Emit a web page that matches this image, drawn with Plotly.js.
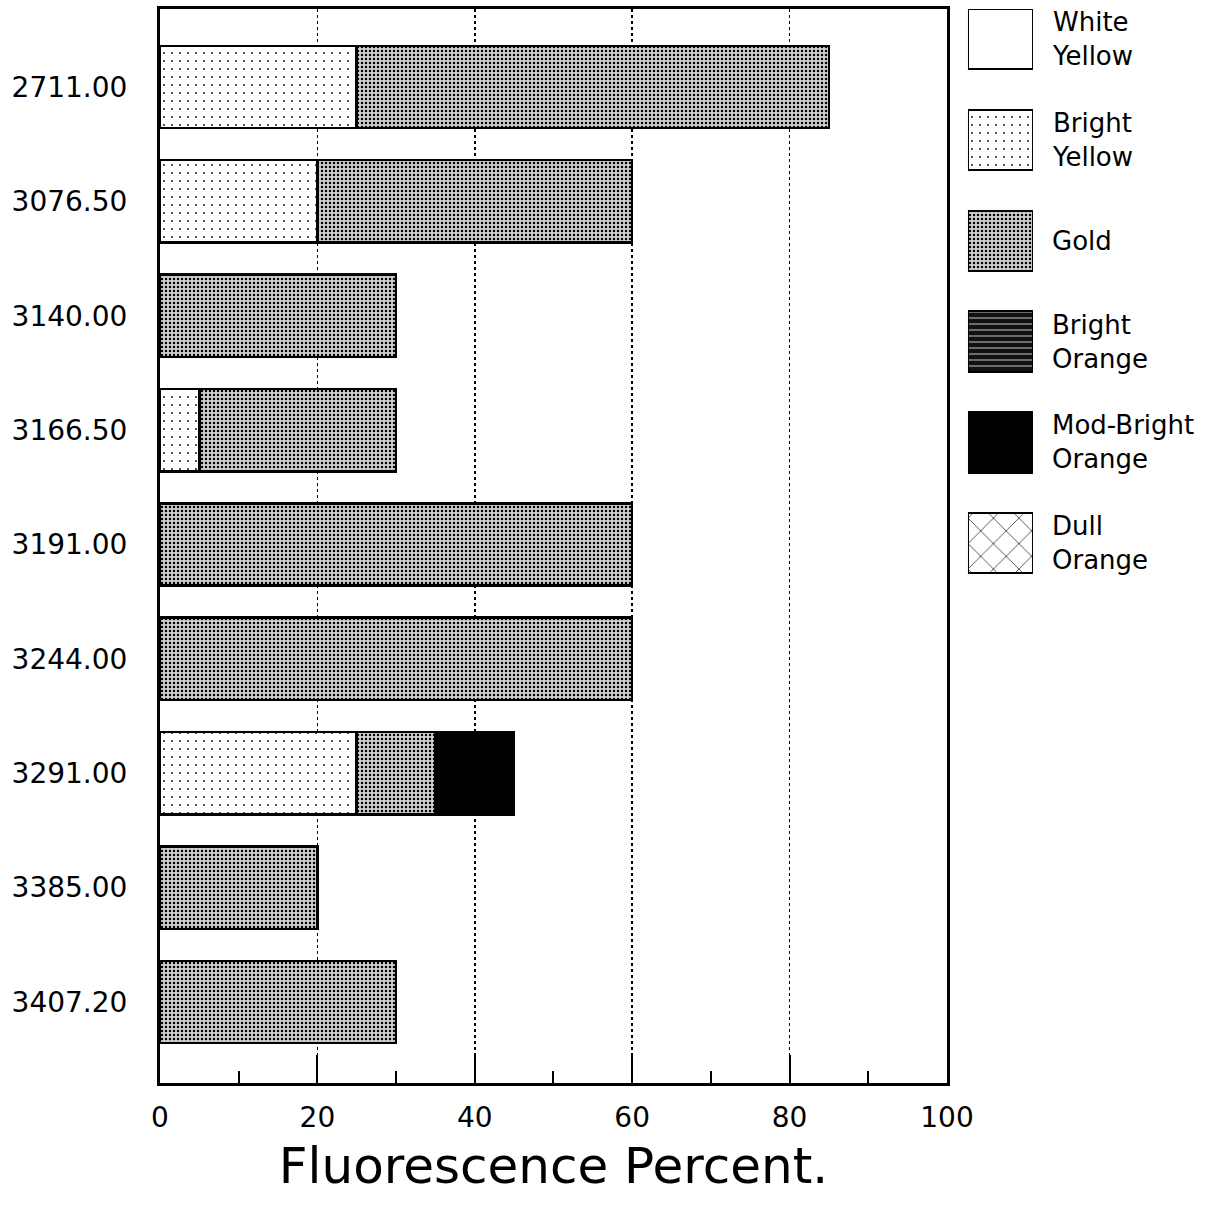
<!DOCTYPE html>
<html>
<head>
<meta charset="utf-8">
<script src="https://cdn.plot.ly/plotly-3.0.1.min.js"></script>
<style>html,body{margin:0;padding:0;background:#fff;}#chart{width:1211px;height:1206px;}</style>
</head>
<body>
<div id="chart"></div>
<script>
// ---- data ----
const categories = ["2711.00","3076.50","3140.00","3166.50","3191.00","3244.00","3291.00","3385.00","3407.20"];
const whiteYellow     = [null, null, null, null, null, null, null, null, null];
const brightYellow    = [25, 20, null, 5, null, null, 25, null, null];
const gold            = [60, 40, 30, 25, 60, 60, 10, 20, 30];
const brightOrange    = [null, null, null, null, null, null, null, null, null];
const modBrightOrange = [null, null, null, null, null, null, 10, null, null];
const dullOrange      = [null, null, null, null, null, null, null, null, null];
const seriesNames  = ["White Yellow", "Bright Yellow", "Gold", "Bright Orange", "Mod-Bright Orange", "Dull Orange"];
const legendLabels = ["White<br>Yellow", "Bright<br>Yellow", "Gold", "Bright<br>Orange", "Mod-Bright<br>Orange", "Dull<br>Orange"];
const xTickVals = [0, 20, 40, 60, 80, 100];
const xTitle = "Fluorescence Percent.";

// ---- styles ----
const styles = {
  "White Yellow":      {color: "#ffffff", pattern: {shape: ""}},
  "Bright Yellow":     {color: "#ffffff", pattern: {shape: ".", size: 8, solidity: 0.04, fgcolor: "#000", bgcolor: "#fff", fillmode: "replace"}},
  "Gold":              {color: "#c8c8c8", pattern: {shape: ".", size: 4, solidity: 0.3, fgcolor: "#000", bgcolor: "#d0d0d0", fillmode: "replace"}},
  "Bright Orange":     {color: "#111111", pattern: {shape: "-", size: 6, solidity: 0.15, fgcolor: "#dddddd", bgcolor: "#111111", fillmode: "replace"}},
  "Mod-Bright Orange": {color: "#000000", pattern: {shape: ""}},
  "Dull Orange":       {color: "#ffffff", pattern: {shape: "x", size: 18, solidity: 0.07, fgcolor: "#000", bgcolor: "#fff", fillmode: "replace"}}
};
const seriesValues = [whiteYellow, brightYellow, gold, brightOrange, modBrightOrange, dullOrange];

const FONT = "DejaVu Sans, Liberation Sans, Arial, sans-serif";

const traces = seriesNames.map((name, i) => ({
  type: "bar",
  orientation: "h",
  name: name,
  y: categories,
  x: seriesValues[i],
  width: 0.72,
  marker: {color: styles[name].color, pattern: styles[name].pattern, line: {color: "#000", width: 2.5}},
  xaxis: "x", yaxis: "y",
  hoverinfo: "x+y+name"
}));

// legend swatches drawn as bars in a small side subplot (one trace per series)
seriesNames.forEach((name) => {
  traces.push({
    type: "bar",
    orientation: "h",
    name: name,
    y: [name],
    x: [1],
    width: 0.6,
    marker: {color: styles[name].color, pattern: styles[name].pattern, line: {color: "#000", width: 2}},
    xaxis: "x2", yaxis: "y2",
    hoverinfo: "name"
  });
});

const annotations = seriesNames.map((name, i) => ({
  xref: "paper", yref: "y2",
  x: 0.8555, y: name,
  xanchor: "left", yanchor: "middle",
  align: "left",
  text: legendLabels[i],
  showarrow: false,
  font: {family: FONT, size: 26, color: "#000"}
}));

const layout = {
  width: 1211, height: 1206,
  margin: {l: 160, r: 11, t: 9, b: 123},
  paper_bgcolor: "#fff", plot_bgcolor: "#fff",
  barmode: "stack",
  showlegend: false,
  font: {family: FONT, color: "#000"},
  xaxis: {
    domain: [0, 0.7567],
    range: [0, 100],
    tickvals: xTickVals,
    ticks: "inside", ticklen: 28, tickwidth: 2, tickcolor: "#000",
    minor: {dtick: 10, tick0: 0, ticks: "inside", ticklen: 12, tickwidth: 2, tickcolor: "#000", showgrid: false},
    showgrid: true, gridcolor: "#000", gridwidth: 1.5, griddash: "dot",
    zeroline: false,
    showline: true, mirror: true, linecolor: "#000", linewidth: 3,
    tickfont: {family: FONT, size: 28, color: "#000"},
    ticklabelstandoff: 7,
    title: {text: xTitle, font: {family: FONT, size: 50, color: "#000"}, standoff: 16},
    automargin: false,
    fixedrange: true
  },
  yaxis: {
    type: "category",
    categoryorder: "array", categoryarray: categories,
    range: [8.708, -0.682],
    ticks: "",
    showgrid: false, zeroline: false,
    showline: true, mirror: true, linecolor: "#000", linewidth: 3,
    tickfont: {family: FONT, size: 28, color: "#000"},
    ticklabelstandoff: 24,
    automargin: false,
    fixedrange: true
  },
  xaxis2: {domain: [0.7769, 0.8394], range: [0, 1], visible: false, anchor: "y2", fixedrange: true},
  yaxis2: {
    domain: [0.4652, 1.0], type: "category",
    categoryorder: "array", categoryarray: seriesNames,
    range: [5.4, -0.3], visible: false, anchor: "x2", fixedrange: true
  },
  annotations: annotations
};

Plotly.newPlot("chart", traces, layout, {displayModeBar: false, staticPlot: true});
</script>
</body>
</html>
